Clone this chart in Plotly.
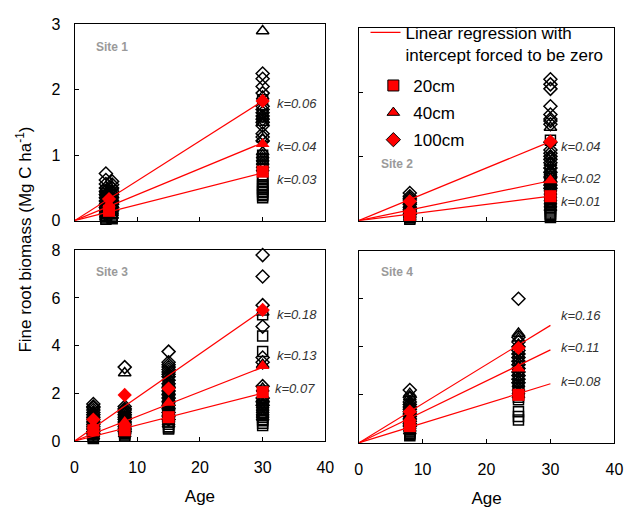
import plotly.graph_objects as go

FONT = "Liberation Sans, Arial, sans-serif"

# ---------------- data ----------------
site1_ages = [5, 6, 30]
site1_20cm = [[0.02, 0.04, 0.06, 0.08, 0.11, 0.13, 0.15, 0.18, 0.2, 0.23, 0.26, 0.3, 0.33, 0.38, 0.42, 0.46],
              [0.03, 0.05, 0.07, 0.1, 0.12, 0.15, 0.18, 0.21, 0.25, 0.28, 0.3],
              [0.35, 0.38, 0.4, 0.43, 0.45, 0.48, 0.5, 0.53, 0.55, 0.6, 0.64, 0.68, 0.8, 0.85, 0.9, 0.95, 1.0, 1.62, 1.85]]
site1_40cm = [[0.05, 0.08, 0.1, 0.13, 0.16, 0.19, 0.22, 0.26, 0.3, 0.34, 0.38, 0.42, 0.47],
              [0.08, 0.12, 0.15, 0.2, 0.25, 0.3, 0.35, 0.4, 0.45, 0.52],
              [0.8, 0.85, 0.9, 0.95, 1.0, 1.05, 1.25, 1.5, 1.55, 1.6, 1.9, 2.9]]
site1_100cm = [[0.1, 0.15, 0.2, 0.25, 0.3, 0.35, 0.4, 0.45, 0.5, 0.56, 0.62, 0.72],
               [0.15, 0.2, 0.25, 0.3, 0.35, 0.4, 0.45, 0.5, 0.55, 0.6],
               [1.22, 1.28, 1.33, 1.45, 1.5, 1.55, 1.6, 1.65, 1.7, 1.75, 1.95, 2.05, 2.17, 2.25]]
site1_mean_ages = [5.5, 30]
site1_mean_20cm = [0.15, 0.75]
site1_mean_40cm = [0.25, 1.17]
site1_mean_100cm = [0.33, 1.83]
site1_slopes = [0.0243, 0.0397, 0.061]
site1_k = ["k=0.03", "k=0.04", "k=0.06"]

site2_ages = [8, 30]
site2_20cm = [[0.02, 0.04, 0.05, 0.07, 0.08, 0.1, 0.12, 0.13, 0.16],
              [0.05, 0.08, 0.1, 0.12, 0.15, 0.18, 0.2, 0.23, 0.25, 0.28, 0.3, 0.33, 0.35, 0.4, 0.42,
               0.46, 0.5, 0.54, 0.58, 0.62, 0.65, 0.72, 1.25]]
site2_40cm = [[0.05, 0.08, 0.1, 0.13, 0.15, 0.18, 0.2, 0.23, 0.25, 0.3],
              [0.2, 0.25, 0.3, 0.35, 0.4, 0.45, 0.5, 0.55, 0.6, 0.65, 0.7, 0.75, 0.8, 0.85, 0.9,
               1.0, 1.45]]
site2_100cm = [[0.1, 0.14, 0.17, 0.21, 0.25, 0.28, 0.32, 0.35, 0.38, 0.43],
               [0.5, 0.55, 0.6, 0.68, 0.75, 0.82, 0.9, 0.95, 1.0, 1.05, 1.1, 1.22, 1.5, 1.55, 1.58,
                1.65, 1.78, 2.05, 2.12, 2.2]]
site2_mean_ages = [8, 30]
site2_mean_20cm = [0.08, 0.38]
site2_mean_40cm = [0.17, 0.63]
site2_mean_100cm = [0.3, 1.23]
site2_slopes = [0.0127, 0.0207, 0.041]
site2_k = ["k=0.01", "k=0.02", "k=0.04"]

site3_ages = [3, 8, 15, 30]
site3_20cm = [[0.1, 0.15, 0.2, 0.25, 0.3, 0.35, 0.4, 0.45, 0.5, 0.55, 0.6, 0.65, 0.7, 0.8],
              [0.2, 0.25, 0.3, 0.35, 0.4, 0.45, 0.5, 0.55, 0.6, 0.65, 0.7, 0.8, 0.9, 1.0],
              [0.5, 0.55, 0.6, 0.7, 0.8, 0.9, 1.0, 1.1, 1.2, 1.3, 1.4, 1.5, 1.6, 1.8, 2.0],
              [0.65, 0.75, 0.85, 0.9, 1.0, 1.1, 1.2, 1.3, 1.4, 1.5, 2.1, 3.75, 4.4, 5.3]]
site3_40cm = [[0.2, 0.3, 0.35, 0.45, 0.5, 0.6, 0.65, 0.75, 0.8, 0.9, 0.95, 1.05, 1.1, 1.2],
              [0.3, 0.4, 0.45, 0.55, 0.6, 0.7, 0.75, 0.85, 0.9, 1.0, 1.05, 1.15, 1.2, 1.3, 2.85],
              [0.7, 0.8, 0.9, 1.0, 1.1, 1.2, 1.3, 1.4, 1.5, 1.6, 1.7, 1.8, 1.9, 2.0, 2.1, 2.2,
               2.3, 2.4, 2.5, 2.65, 2.8],
              [1.0, 1.1, 1.2, 1.3, 1.4, 1.5, 1.6, 1.7, 1.8, 2.2, 3.2, 5.4]]
site3_100cm = [[0.3, 0.4, 0.5, 0.6, 0.7, 0.8, 0.9, 1.0, 1.1, 1.2, 1.3, 1.4, 1.45, 1.55],
               [0.4, 0.5, 0.6, 0.7, 0.8, 0.9, 1.0, 1.1, 1.2, 1.3, 1.35, 1.45, 3.1],
               [0.9, 1.05, 1.2, 1.35, 1.5, 1.65, 1.8, 1.95, 2.1, 2.25, 2.4, 2.55, 2.7, 2.8, 2.9,
                3.0, 3.1, 3.2, 3.3, 3.75],
               [1.5, 1.65, 1.8, 2.3, 3.3, 3.5, 4.8, 5.7, 6.9, 7.8]]
site3_mean_ages = [3, 8, 15, 30]
site3_mean_20cm = [0.45, 0.45, 1.0, 2.05]
site3_mean_40cm = [0.65, 0.8, 1.6, 3.15]
site3_mean_100cm = [0.9, 1.93, 2.2, 5.5]
site3_slopes = [0.067, 0.103, 0.183]
site3_k = ["k=0.07", "k=0.13", "k=0.18"]

site4_ages = [8, 25]
site4_20cm = [[0.3, 0.35, 0.4, 0.45, 0.5, 0.55, 0.6, 0.65, 0.7, 0.75, 0.8, 0.9, 1.0],
              [0.95, 1.1, 1.3, 1.8, 1.9, 2.0, 2.1, 2.2, 2.3, 2.4]]
site4_40cm = [[0.5, 0.6, 0.7, 0.8, 0.9, 1.0, 1.1, 1.2, 1.3, 1.4, 1.5, 1.6, 1.7, 1.9, 2.05],
              [2.0, 2.15, 2.3, 2.45, 2.6, 2.75, 2.9, 3.05, 3.2, 3.35, 3.5, 3.65, 3.8, 4.1,
               4.35, 4.55]]
site4_100cm = [[0.7, 0.8, 0.9, 1.0, 1.1, 1.2, 1.3, 1.4, 1.5, 1.6, 1.7, 1.9, 2.2],
               [2.5, 2.65, 2.8, 2.95, 3.1, 3.25, 3.4, 3.55, 3.7, 3.85, 4.0, 4.2, 4.4, 6.0]]
site4_mean_ages = [8, 25]
site4_mean_20cm = [0.7, 2.0]
site4_mean_40cm = [1.05, 3.1]
site4_mean_100cm = [1.3, 3.95]
site4_slopes = [0.082, 0.129, 0.163]
site4_k = ["k=0.08", "k=0.11", "k=0.16"]

line_x = [0, 30]

site_names = ["Site 1", "Site 2", "Site 3", "Site 4"]
depth_names = ["20cm", "40cm", "100cm"]
age_title = "Age"
y_title = "Fine root biomass (Mg C ha<sup>-1</sup>)"
reg_name = "Linear regression with<br>intercept forced to be zero"

# ---------------- styling ----------------
open_symbols = ["square-open", "triangle-up-open", "diamond-open"]
fill_symbols = ["square", "triangle-up", "diamond"]
black_sizes = [10, 11, 10]
red_sizes = [12, 12, 11]

sites = [
    (site1_ages, [site1_20cm, site1_40cm, site1_100cm], site1_mean_ages,
     [site1_mean_20cm, site1_mean_40cm, site1_mean_100cm], site1_slopes, site1_k),
    (site2_ages, [site2_20cm, site2_40cm, site2_100cm], site2_mean_ages,
     [site2_mean_20cm, site2_mean_40cm, site2_mean_100cm], site2_slopes, site2_k),
    (site3_ages, [site3_20cm, site3_40cm, site3_100cm], site3_mean_ages,
     [site3_mean_20cm, site3_mean_40cm, site3_mean_100cm], site3_slopes, site3_k),
    (site4_ages, [site4_20cm, site4_40cm, site4_100cm], site4_mean_ages,
     [site4_mean_20cm, site4_mean_40cm, site4_mean_100cm], site4_slopes, site4_k),
]

# positions of labels (data coordinates of each panel)
site_label_pos = [(3.1, 2.65), (3.2, 0.88), (3.1, 7.1), (3.2, 7.13)]
k_label_pos = [
    [(32.0, 0.63), (32.0, 1.13), (32.0, 1.79)],
    [(31.3, 0.29), (31.3, 0.66), (31.4, 1.15)],
    [(31.7, 2.22), (31.9, 3.6), (32.0, 5.3)],
    [(31.3, 2.57), (31.3, 3.95), (31.4, 5.29)],
]

fig = go.Figure()
annotations = []

for i, (ages, depth_vals, mean_ages, mean_vals, slopes, klabels) in enumerate(sites):
    xa = "x" if i == 0 else f"x{i+1}"
    ya = "y" if i == 0 else f"y{i+1}"
    # black open markers (individual observations)
    for d in range(3):
        xs, ys = [], []
        for age, vals in zip(ages, depth_vals[d]):
            xs += [age] * len(vals)
            ys += vals
        fig.add_trace(go.Scatter(
            x=xs, y=ys, mode="markers", xaxis=xa, yaxis=ya, showlegend=False,
            cliponaxis=False,
            marker=dict(symbol=open_symbols[d], size=black_sizes[d], color="black",
                        line=dict(color="black", width=1.5)),
            hoverinfo="skip"))
    # regression lines
    for s in slopes:
        fig.add_trace(go.Scatter(
            x=line_x, y=[s * v for v in line_x], mode="lines", xaxis=xa, yaxis=ya,
            showlegend=False, line=dict(color="#ff0000", width=1.2), hoverinfo="skip"))
    # red means
    for d in range(3):
        fig.add_trace(go.Scatter(
            x=mean_ages, y=mean_vals[d], mode="markers", xaxis=xa, yaxis=ya,
            showlegend=False, cliponaxis=False,
            marker=dict(symbol=fill_symbols[d], size=red_sizes[d], color="#ff0000",
                        line=dict(color="#ff0000", width=0)),
            hoverinfo="skip"))
    # labels
    sx, sy = site_label_pos[i]
    annotations.append(dict(x=sx, y=sy, xref=xa, yref=ya, text=f"<b>{site_names[i]}</b>",
                            showarrow=False, xanchor="left", yanchor="middle",
                            font=dict(family=FONT, size=12, color="#9a9a9a")))
    for (kx, ky), kt in zip(k_label_pos[i], klabels):
        annotations.append(dict(x=kx, y=ky, xref=xa, yref=ya, text=f"<i>{kt}</i>",
                                showarrow=False, xanchor="left", yanchor="middle",
                                font=dict(family=FONT, size=13, color="#333333")))

# legend-only traces
fig.add_trace(go.Scatter(x=[None], y=[None], mode="lines", name=reg_name,
                         xaxis="x2", yaxis="y2", legend="legend",
                         line=dict(color="#ff0000", width=1.2)))
for d in range(3):
    fig.add_trace(go.Scatter(x=[None], y=[None], mode="markers", name=depth_names[d],
                             xaxis="x2", yaxis="y2", legend="legend2",
                             legendgroup=depth_names[d],
                             marker=dict(symbol=fill_symbols[d], size=11, color="#ff0000",
                                         line=dict(color="black", width=1))))

W, H = 641, 508
def px_x(a, b):
    return [a / W, b / W]
def px_y(top, bottom):
    return [1 - bottom / H, 1 - top / H]

axis_common = dict(showline=True, mirror=True, linecolor="black", linewidth=1,
                   ticks="inside", ticklen=4, tickcolor="black", showgrid=False,
                   zeroline=False, tickfont=dict(family=FONT, size=16, color="black"))

fig.update_layout(
    width=W, height=H, margin=dict(l=0, r=0, t=0, b=0),
    paper_bgcolor="white", plot_bgcolor="white",
    font=dict(family=FONT, color="black"),
    xaxis=dict(domain=px_x(72, 328), anchor="y", range=[0, 40], dtick=10,
               showticklabels=False, **axis_common),
    yaxis=dict(domain=px_y(17, 220), anchor="x", range=[0, 3], dtick=1,
               ticklabelstandoff=10, **axis_common),
    xaxis2=dict(domain=px_x(362, 623), anchor="y2", range=[0, 40], dtick=10,
                showticklabels=False, **axis_common),
    yaxis2=dict(domain=px_y(20.5, 220), anchor="x2", range=[0, 3], dtick=1,
                showticklabels=False, **axis_common),
    xaxis3=dict(domain=px_x(72, 328), anchor="y3", range=[0, 40], dtick=10,
                ticklabelstandoff=12,
                title=dict(text=age_title, font=dict(family=FONT, size=17), standoff=14),
                **axis_common),
    yaxis3=dict(domain=px_y(250.7, 448), anchor="x3", range=[0, 8], dtick=2,
                ticklabelstandoff=10, **axis_common),
    xaxis4=dict(domain=px_x(362, 623), anchor="y4", range=[0, 40], dtick=10,
                ticklabelstandoff=12,
                title=dict(text=age_title, font=dict(family=FONT, size=17), standoff=14),
                **axis_common),
    yaxis4=dict(domain=px_y(251, 450), anchor="x4", range=[0, 8], dtick=2,
                showticklabels=False, **axis_common),
    legend=dict(x=369 / W, y=1 - 7 / H, xanchor="left", yanchor="top",
                bgcolor="rgba(0,0,0,0)", valign="top",
                font=dict(family=FONT, size=17, color="black")),
    legend2=dict(x=377 / W, y=1 - 62 / H, xanchor="left", yanchor="top",
                 bgcolor="rgba(0,0,0,0)", tracegroupgap=2,
                 font=dict(family=FONT, size=17, color="black")),
    annotations=annotations + [
        dict(x=20 / W, y=1 - 240 / H, xref="paper", yref="paper", text=y_title,
             textangle=-90, showarrow=False, xanchor="center", yanchor="middle",
             font=dict(family=FONT, size=17, color="black")),
    ],
)

fig.write_html("out.html")
